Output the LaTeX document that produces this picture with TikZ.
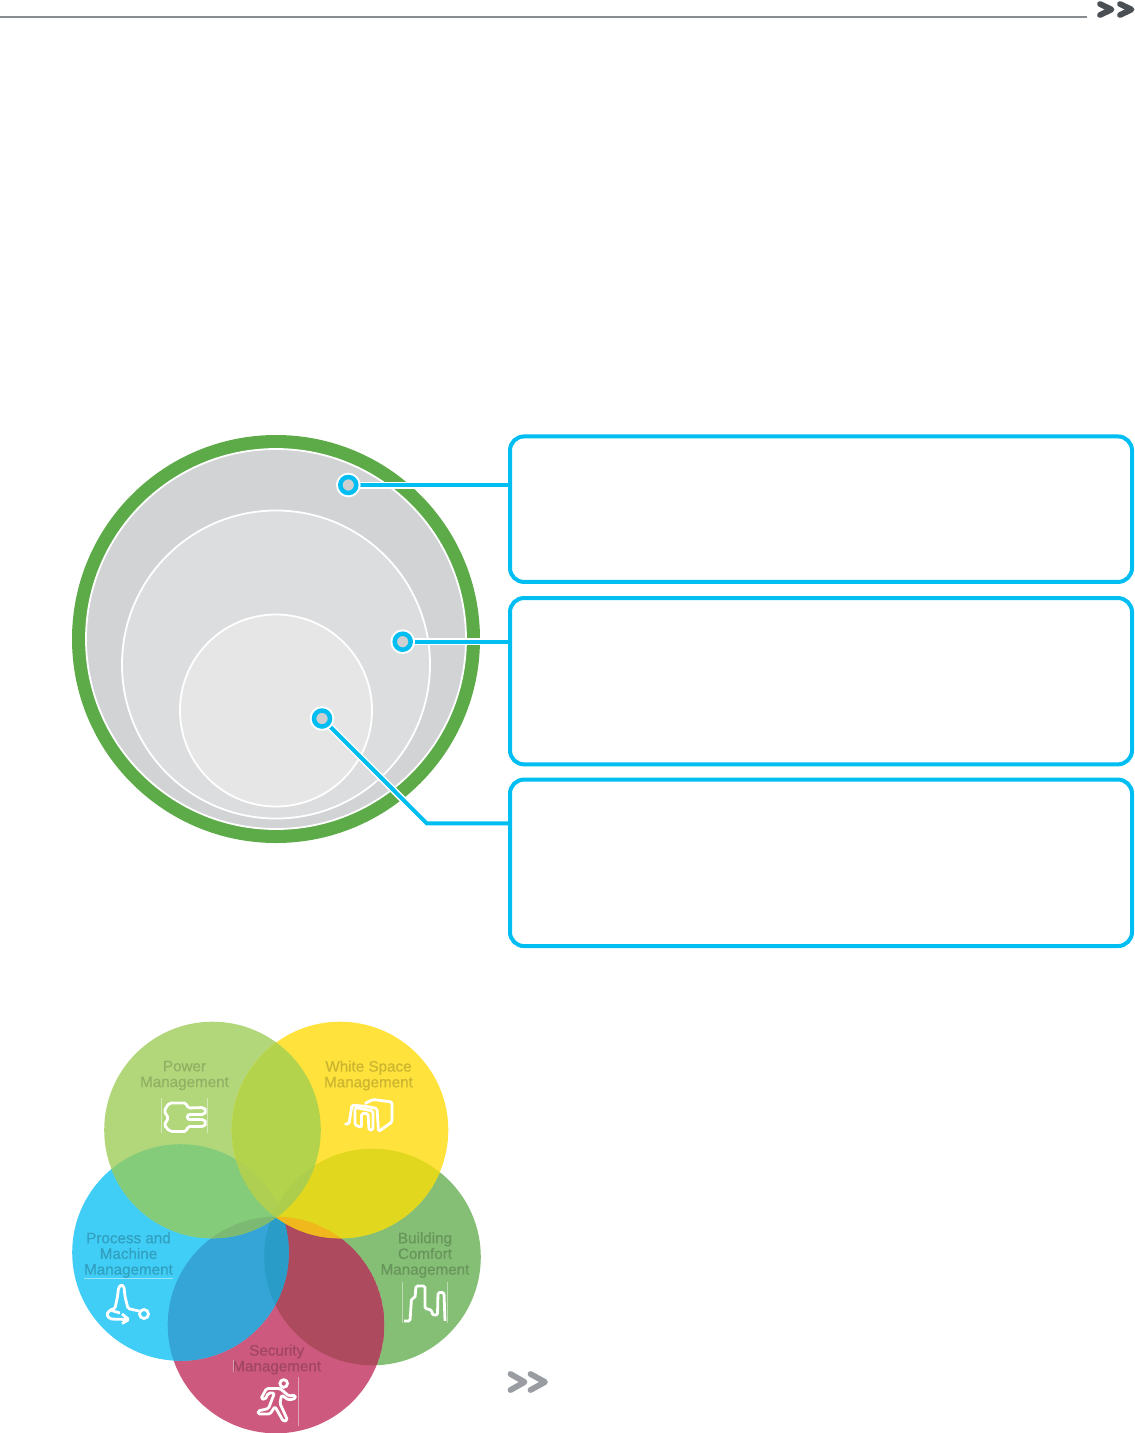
\documentclass[tikz,border=0pt]{standalone}
\usepackage{xcolor}
\usepackage{fontspec}
\setmainfont{Liberation Sans}
\newfontfamily\vennfont[FakeBold=0.5]{Liberation Sans}
\usepackage{tikz}
\usetikzlibrary{calc}

\definecolor{ringgreen}{HTML}{5DAB48}
\definecolor{discouter}{HTML}{D1D3D4}
\definecolor{discmiddle}{HTML}{DCDDDE}
\definecolor{discinner}{HTML}{E6E6E6}
\definecolor{callout}{HTML}{00BDF2}
\definecolor{dotgray}{HTML}{CDCFD0}
\definecolor{ruledark}{HTML}{8A8D90}
\definecolor{chevdark}{HTML}{4A4F54}
\definecolor{chevlight}{HTML}{999CA0}
\definecolor{vpower}{HTML}{B2D77A}
\definecolor{vwhite}{HTML}{FFE23C}
\definecolor{vprocess}{HTML}{40CDF6}
\definecolor{vbuilding}{HTML}{85BF75}
\definecolor{vsecurity}{HTML}{CD5A7E}

\pgfdeclarelayer{back}
\pgfdeclarelayer{wires}
\pgfsetlayers{back,wires,main}

%% Venn circles
\def\cPower{(212.5,1130) circle (108.3)}
\def\cWhite{(340,1130) circle (108.3)}
\def\cProcess{(180.5,1252.5) circle (108.3)}
\def\cBuilding{(372.5,1257) circle (108.3)}
\def\cSecurity{(276,1325) circle (108.3)}

%% clip, clip, fill, colour
\newcommand{\lensfill}[4]{%
  \begin{scope}
    \clip #1;
    \clip #2;
    \fill[#4] #3;
  \end{scope}}

\begin{document}
\begin{tikzpicture}[
  x=1pt, y=-1pt,
  boxnode/.style={draw=callout, line width=4pt, rounded corners=14pt,
    minimum width=622pt, inner sep=0pt, outer sep=0pt},
  dotnode/.style={circle, draw=callout, fill=dotgray, line width=4.5pt,
    minimum size=16pt, inner sep=0pt, outer sep=0pt,
    preaction={draw=white, line width=8.5pt}},
  wirehalo/.style={white, line width=7pt, shorten >=4pt},
  wireline/.style={callout, line width=4pt},
  chevron/.style={line width=5.8pt, line cap=round, line join=round},
  venntext/.style={font=\vennfont\fontsize{15.2}{15.7}\selectfont, align=center, inner sep=0pt},
  iconline/.style={white, line width=2.8pt, rounded corners=1.5pt, line join=round},
  hairline/.style={white, opacity=0.45, line width=0.6pt},
]
\useasboundingbox (0,0) rectangle (1135,1433);

%% Page header
\draw[ruledark, line width=2pt] (0,16.5) -- (1087,16.5);
\draw[chevdark, chevron] (1100,4) -- (1111.5,9.5) -- (1100,15);
\draw[chevdark, chevron] (1120,4) -- (1131.5,9.5) -- (1120,15);

%% Nested discs
\begin{pgfonlayer}{back}
\fill[ringgreen] (276,639) circle (204);
\draw[white, fill=discouter, line width=1.8pt] (276,639) circle (190);
\draw[white, fill=discmiddle, line width=1.8pt] (276,664.5) circle (154);
\draw[white, fill=discinner, line width=1.8pt] (276,710.5) circle (96);
\end{pgfonlayer}

%% Callout boxes
\node[boxnode, minimum height=145.5pt] (boxOuter) at (821,509.2) {};
\node[boxnode, minimum height=166.3pt] (boxMiddle) at (821,681.2) {};
\node[boxnode, minimum height=166.5pt] (boxInner) at (821,862.8) {};

%% Dots
\node[dotnode] (dotOuter) at (348.3,485) {};
\node[dotnode] (dotMiddle) at (402.7,641.7) {};
\node[dotnode] (dotInner) at (322,718.5) {};
\coordinate (bendInner) at (426.7,823.3);

%% Connectors
\begin{pgfonlayer}{wires}
\foreach \st in {wirehalo, wireline}{
  \draw[\st] (dotOuter) -- (dotOuter -| boxOuter.west);
  \draw[\st] (dotMiddle) -- (dotMiddle -| boxMiddle.west);
  \draw[\st] (dotInner) -- (bendInner) -- (bendInner -| boxInner.west);
}
\end{pgfonlayer}

%% Venn base
\begin{pgfonlayer}{back}
\fill[vbuilding] \cBuilding;
\fill[vsecurity] \cSecurity;
\fill[vprocess] \cProcess;
\fill[vpower] \cPower;
\fill[vwhite] \cWhite;

%% Overlaps
\lensfill{\cBuilding}{\cSecurity}{\cSecurity}{color={rgb,255:red,174;green,74;blue,93}}
\lensfill{\cProcess}{\cSecurity}{\cSecurity}{color={rgb,255:red,53;green,165;blue,216}}
\lensfill{\cProcess}{\cBuilding}{\cBuilding}{color={rgb,255:red,42;green,156;blue,200}}
\lensfill{\cPower}{\cProcess}{\cProcess}{color={rgb,255:red,132;green,203;blue,122}}
\lensfill{\cWhite}{\cBuilding}{\cBuilding}{color={rgb,255:red,224;green,215;blue,30}}
\lensfill{\cWhite}{\cSecurity}{\cSecurity}{color={rgb,255:red,240;green,184;blue,28}}
\lensfill{\cPower}{\cProcess}{\cSecurity}{color={rgb,255:red,124;green,186;blue,116}}
\lensfill{\cPower}{\cWhite}{\cWhite}{color={rgb,255:red,180;green,211;blue,76}}
\lensfill{\cPower}{\cWhite}{\cProcess}{color={rgb,255:red,174;green,207;blue,82}}
\lensfill{\cPower}{\cWhite}{\cBuilding}{color={rgb,255:red,172;green,206;blue,76}}
\end{pgfonlayer}

%% Venn labels
\node[venntext, text=vpower!82!black] (txtPower) at (184.5,1075.5) {Power\\Management};
\node[venntext, text=vwhite!80!black] (txtWhite) at (368.5,1075.5) {White Space\\Management};
\node[venntext, text=vprocess!78!black] (txtProcess) at (128.5,1255) {Process and\\Machine\\Management};
\node[venntext, text=vbuilding!78!black] (txtBuilding) at (425,1255) {Building\\Comfort\\Management};
\node[venntext, text=vsecurity!78!black] (txtSecurity) at (276.7,1359.5) {Security\\Management};

%% Thin rules near icons
\draw[hairline] (161.5,1098) -- (161.5,1133);
\draw[hairline] (207.5,1098) -- (207.5,1133);
\draw[hairline] (84,1278) -- (173,1278);
\draw[hairline] (402,1282) -- (402,1323);
\draw[hairline] (447,1282) -- (447,1323);
\draw[hairline] (298.5,1377) -- (298.5,1426);
\draw[hairline] (233,1360) -- (233,1372);

%% Power icon
\draw[iconline, rounded corners=2pt] (187.5,1108) -- (204,1107.5) -- (206.5,1111) -- (204,1114.5) -- (187.5,1114.5)
  -- (187.5,1119.5) -- (204,1119.5) -- (206.5,1123) -- (204,1126.5) -- (187.5,1126.5)
  -- (186.5,1131.5) -- (170,1131.5) -- (164,1125) -- (168.5,1118) -- (164,1111) -- (169,1103) -- (186.5,1103) -- cycle;

%% White space icon
\draw[iconline] (344.5,1124) -- (349,1124) -- (352,1105) -- (367,1106.5) -- (377,1108.5)
  -- (378.5,1131.5) -- (392,1122) -- (392,1102) -- (373,1099.5) -- (365,1103.5);
\draw[iconline] (355,1107.5) -- (355,1125) -- (361.5,1127.5) -- (361.5,1113.5) -- (368,1113.5)
  -- (369,1130) -- (373,1130) -- (373,1111) -- (355,1107.5);

%% Process icon
\draw[iconline] (139,1311) -- (128,1308.5) -- (125,1296.5) -- (124,1286.5) -- (121,1284.5)
  -- (118.5,1288) -- (117.5,1296.5) -- (115,1308.5) -- (110,1310) -- (106.5,1314.5) -- (110,1319)
  -- (128,1319.5);
\draw[iconline] (122,1314) -- (129,1319.5) -- (122,1323.5);
\draw[iconline] (110,1310) -- (120,1313);
\draw[white, line width=2.8pt] (144,1314) circle (4.5);

%% Building icon
\draw[iconline] (404,1321) -- (410,1321) -- (411.5,1298.5) -- (415,1298) -- (416,1286) -- (425,1286)
  -- (425,1308.5) -- (431.5,1310) -- (432.5,1315) -- (437.5,1315) -- (438,1292.5) -- (444,1292.5) -- (445,1321);

%% Security icon
\draw[iconline] (280,1388.5) -- (266.5,1388.5) -- (261,1398.5) -- (265,1399.5) -- (268.5,1393) -- (274.5,1393)
  -- (268.5,1408.5) -- (258,1411) -- (258,1414) -- (270,1414) -- (275,1406.5) -- (283.5,1421.5) -- (287.5,1420)
  -- (280,1403.5) -- (281.5,1395) -- (288.5,1400) -- (295.5,1398.5) -- (295,1395) -- (289,1396) -- cycle;
\draw[white, line width=2.8pt] (283.7,1383.5) circle (3.8);

%% Closing chevrons
\draw[chevlight, chevron] (510.5,1374) -- (524.5,1382) -- (510.5,1390);
\draw[chevlight, chevron] (530.5,1374) -- (545,1382) -- (530.5,1390);

\end{tikzpicture}
\end{document}
